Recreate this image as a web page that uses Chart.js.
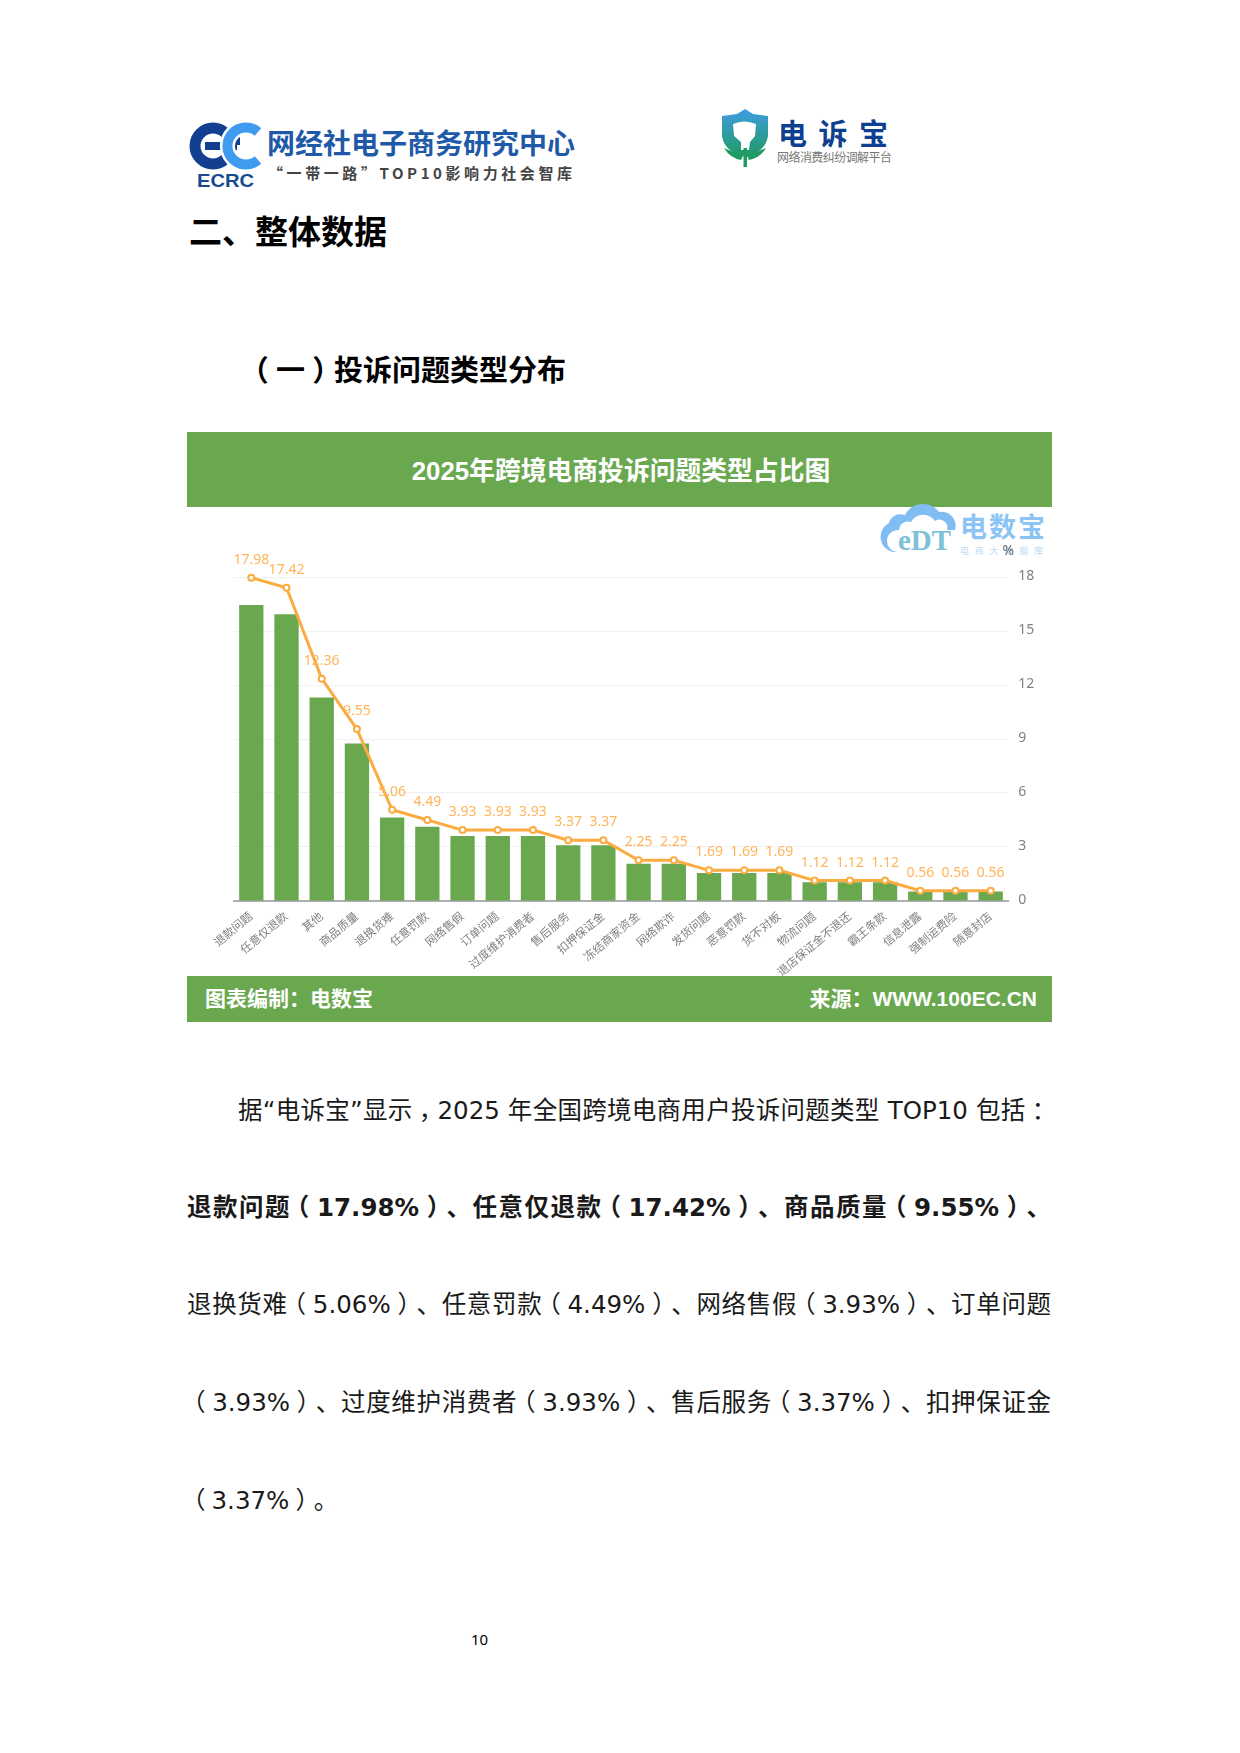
<!DOCTYPE html>
<html lang="zh-CN">
<head>
<meta charset="utf-8">
<title>2025年跨境电商投诉问题类型占比图</title>
<script src="https://cdn.jsdelivr.net/npm/chart.js@4"></script>
<style>
  html, body { margin: 0; padding: 0; background: #fff; }
  body { position: relative; width: 1240px; height: 1753px; overflow: hidden;
    font-family: "Noto Sans CJK SC", sans-serif; color: #000; }
  .abs { position: absolute; white-space: nowrap; }
  .band { position: absolute; left: 187px; width: 865px; background: #6aa84f; color: #fff; font-weight: bold;
    font-family: "Liberation Sans", "Noto Sans CJK SC", sans-serif; }
  .body-line { position: absolute; left: 187px; width: 864px; white-space: normal; height: 40px; line-height: 40px;
    font-family: "DejaVu Sans", "Noto Sans CJK SC", sans-serif; font-size: 24.5px; color: #1a1a1a;
    text-align: justify; text-align-last: justify; }
  /* full-width punctuation sits centred in its cell in the reference */
  .p { font-family: "Noto Sans CJK SC"; font-feature-settings: "halt"; margin: 0 0.25em; }
  #chartBox { position: absolute; left: 187px; top: 507px; width: 865px; height: 469px; }
</style>
</head>
<body>

<!-- page logos -->
<svg class="abs" style="left:0;top:0" width="1240" height="200" font-family="Noto Sans CJK SC">
  <defs>
    <linearGradient id="shieldFill" x1="0" y1="0" x2="0" y2="1">
      <stop offset="0" stop-color="#3f9be6"/><stop offset="0.55" stop-color="#2f9c9c"/><stop offset="1" stop-color="#1f9a63"/>
    </linearGradient>
  </defs>
  <circle cx="213" cy="146" r="18" fill="none" stroke="#123f8f" stroke-width="11"/>
  <rect x="205" y="142" width="32" height="8" fill="#123f8f"/>
  <path d="M232 131 L240 131 L240 145 L226 145 Z" fill="#123f8f"/>
  <path d="M258 132 A18.5 18.5 0 1 0 258 160" fill="none" stroke="#fff" stroke-width="15"/>
  <path d="M258 132 A18.5 18.5 0 1 0 258 160" fill="none" stroke="#3f9bf0" stroke-width="10"/>
  <text x="197" y="187" font-family="Liberation Sans" font-weight="bold" font-size="18" fill="#17498f" textLength="57" lengthAdjust="spacingAndGlyphs">ECRC</text>
  <text x="267" y="154" font-weight="bold" font-size="28" fill="#1f5aa8" textLength="308" lengthAdjust="spacingAndGlyphs">网经社电子商务研究中心</text>
  <text x="268" y="179" font-weight="bold" font-size="15" fill="#444" textLength="304" lengthAdjust="spacing">“一带一路”TOP10影响力社会智库</text>

  <path d="M745 109 L753 114 L768 116 L768 136 Q766 150 749 156 L741 156 Q724 150 722 136 L722 116 L737 114 Z" fill="url(#shieldFill)"/>
  <path d="M724 148 Q730 158 741 160 L743 156 Z M766 148 Q760 158 749 160 L747 156 Z" fill="#1f9a63"/>
  <path d="M733 124 Q744 119 756 124 L755 136 L750 142 L749 150 L741 150 L741 142 L734 136 Z" fill="#fff"/>
  <rect x="743.5" y="148" width="3.5" height="19" fill="#1f9a63"/>
  <text x="778" y="145" font-weight="bold" font-size="29" fill="#0f3f91" textLength="110" lengthAdjust="spacing">电诉宝</text>
  <text x="777" y="162" font-size="12" fill="#777" textLength="115" lengthAdjust="spacing">网络消费纠纷调解平台</text>
</svg>

<div class="abs" style="left:189px;top:206px;font-size:33px;line-height:48px;font-weight:bold">二、整体数据</div>
<div class="abs" style="left:247px;top:347px;font-size:29px;line-height:42px;font-weight:bold"><span class="p">（</span>一<span class="p">）</span>投诉问题类型分布</div>

<!-- chart card -->
<div class="band" style="top:432px;height:75px;line-height:79px;text-align:center;font-size:25.8px;text-indent:3px">2025年跨境电商投诉问题类型占比图</div>

<svg class="abs" style="left:875px;top:500px" width="180" height="60" font-family="Noto Sans CJK SC">
  <path d="M14 52 A15.5 15.5 0 0 1 10 23 A12 12 0 0 1 26 15 A20 20 0 0 1 60 12 A14 14 0 0 1 76 30 L68 30 A8 8 0 0 0 56 21 A14 14 0 0 0 32 22 A9 9 0 0 0 20 30 A10 10 0 0 0 18 52 Z" fill="#7fbdf3" transform="translate(4 0)"/>
  <text x="23" y="50" font-family="Liberation Serif" font-weight="bold" font-size="30" fill="#7cc1d6" textLength="53" lengthAdjust="spacingAndGlyphs">eDT</text>
  <text x="85" y="37" font-weight="bold" font-size="27" fill="#8cc4f5" textLength="85" lengthAdjust="spacing">电数宝</text>
  <text x="85" y="54" font-size="9" fill="#bcdcf8" textLength="83" lengthAdjust="spacing">电商大数据库</text>
</svg>

<div id="chartBox"><canvas id="typeChart" width="865" height="469"></canvas></div>

<div class="band" style="top:976px;height:46px;line-height:46px;font-size:21px">
  <span class="abs" style="left:18px">图表编制：电数宝</span>
  <span class="abs" style="right:15px">来源：WWW.100EC.CN</span>
</div>

<!-- body text -->
<div class="body-line" style="top:1089px;left:238px;width:812px">据“电诉宝”显示<span class="p">，</span>2025 年全国跨境电商用户投诉问题类型 TOP10 包括<span class="p">：</span></div>
<div class="body-line" style="top:1186px;font-weight:bold">退款问题<span class="p">（</span>17.98%<span class="p">）</span>、任意仅退款<span class="p">（</span>17.42%<span class="p">）</span>、商品质量<span class="p">（</span>9.55%<span class="p">）</span>、</div>
<div class="body-line" style="top:1283px">退换货难<span class="p">（</span>5.06%<span class="p">）</span>、任意罚款<span class="p">（</span>4.49%<span class="p">）</span>、网络售假<span class="p">（</span>3.93%<span class="p">）</span>、订单问题</div>
<div class="body-line" style="top:1381px"><span class="p">（</span>3.93%<span class="p">）</span>、过度维护消费者<span class="p">（</span>3.93%<span class="p">）</span>、售后服务<span class="p">（</span>3.37%<span class="p">）</span>、扣押保证金</div>
<div class="body-line" style="top:1479px;text-align-last:left"><span class="p">（</span>3.37%<span class="p">）</span>。</div>
<div class="abs" style="left:471px;top:1628px;font-size:15px;line-height:22px;font-family:'Noto Sans'">10</div>

<script>
// Complaint types, left to right
const categories = [
  "退款问题", "任意仅退款", "其他", "商品质量", "退换货难", "任意罚款",
  "网络售假", "订单问题", "过度维护消费者", "售后服务", "扣押保证金", "冻结商家资金",
  "网络欺诈", "发货问题", "恶意罚款", "货不对板", "物流问题", "退店保证金不退还",
  "霸王条款", "信息泄露", "强制运费险", "随意封店",
];
// Bars: complaint counts, on a hidden left axis
const barCounts = [32, 31, 22, 17, 9, 8, 7, 7, 7, 6, 6, 4, 4, 3, 3, 3, 2, 2, 2, 1, 1, 1];
// Line: share in percent, on the right axis
const sharePct = [
  17.98, 17.42, 12.36, 9.55, 5.06, 4.49, 3.93, 3.93, 3.93, 3.37, 3.37,
  2.25, 2.25, 1.69, 1.69, 1.69, 1.12, 1.12, 1.12, 0.56, 0.56, 0.56,
];

const GREEN = "#6aa84f";
const ORANGE = "#fbab3f";
const FONT = '"Noto Sans", "Noto Sans CJK SC", sans-serif';

// Value labels above the line points, plus the "%" unit over the right axis
const lineLabels = {
  id: "lineLabels",
  afterDatasetsDraw(chart) {
    const { ctx, chartArea } = chart;
    const points = chart.getDatasetMeta(1).data;
    ctx.save();
    ctx.textAlign = "center";
    ctx.textBaseline = "middle";
    ctx.font = "14px " + FONT;
    ctx.fillStyle = "#ffb458";
    points.forEach((pt, i) => {
      ctx.fillText(sharePct[i].toFixed(2), pt.x, pt.y - 18);
    });
    ctx.fillStyle = "#666";
    ctx.fillText("%", chartArea.right, chartArea.top - 26);
    ctx.restore();
  },
};

new Chart(document.getElementById("typeChart"), {
  data: {
    labels: categories,
    datasets: [
      {
        type: "bar",
        data: barCounts,
        yAxisID: "yCount",
        backgroundColor: GREEN,
        barPercentage: 0.69,
        categoryPercentage: 1,
        order: 2,
      },
      {
        type: "line",
        data: sharePct,
        yAxisID: "yShare",
        borderColor: ORANGE,
        borderWidth: 3,
        pointBackgroundColor: "#fff",
        pointBorderColor: ORANGE,
        pointBorderWidth: 2,
        pointRadius: 3,
        tension: 0,
        clip: false,
        order: 1,
      },
    ],
  },
  options: {
    responsive: false,
    animation: false,
    devicePixelRatio: 1,
    layout: { padding: { left: 46.7, top: 70.3, right: 0, bottom: 0 } },
    plugins: { legend: { display: false }, tooltip: { enabled: false } },
    scales: {
      x: {
        grid: { display: false },
        border: { color: "#aeaeb4", width: 2 },
        ticks: {
          autoSkip: false,
          minRotation: 40,
          maxRotation: 40,
          padding: 1,
          color: "#808080",
          font: { size: 11.5, family: FONT },
        },
        afterFit(scale) { scale.height = 75.3; },
      },
      yCount: { display: false, min: 0, max: 35 },
      yShare: {
        position: "right",
        min: 0,
        max: 18,
        border: { display: false },
        grid: { color: "#f1f1f1", drawTicks: false },
        ticks: {
          stepSize: 3,
          padding: 10,
          labelOffset: -1,
          color: "#808080",
          font: { size: 14, family: FONT },
        },
        afterFit(scale) { scale.width = 43.7; },
      },
    },
  },
  plugins: [lineLabels],
});
</script>
</body>
</html>
